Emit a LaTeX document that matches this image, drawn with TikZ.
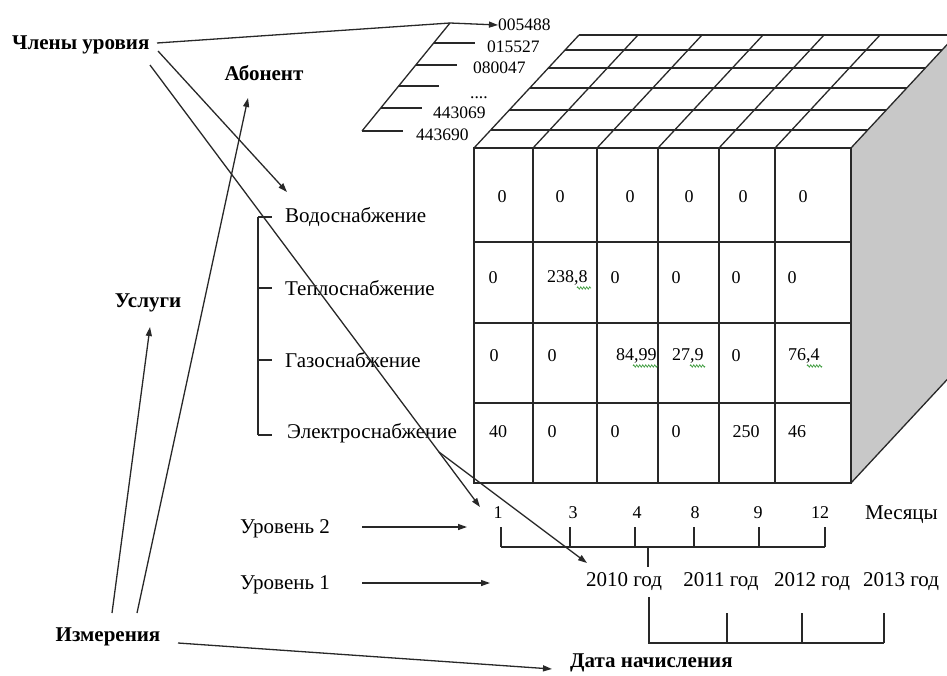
\documentclass[tikz,border=0pt]{standalone}
\usepackage{fontspec}
\setmainfont{Liberation Serif}
\usetikzlibrary{arrows.meta,decorations.pathmorphing}
\definecolor{facegray}{RGB}{200,200,200}
\definecolor{spellgreen}{RGB}{70,160,70}
\definecolor{ink}{RGB}{40,40,40}
\begin{document}
\begin{tikzpicture}[x=1pt,y=-1pt,
  lbl/.style={inner sep=0pt, font=\fontsize{21}{24}\selectfont},
  blbl/.style={inner sep=0pt, font=\fontsize{21}{24}\selectfont\bfseries},
  num/.style={inner sep=0pt, font=\fontsize{18}{21}\selectfont},
  lst/.style={inner sep=0pt, anchor=west, font=\fontsize{17.5}{20}\selectfont},
  ln/.style={line width=1.3pt, draw=ink},
  arr/.style={ln, -{Triangle[length=9pt,width=6pt]}},
  squig/.style={draw=spellgreen, line width=0.8pt, decorate,
    decoration={zigzag, amplitude=1.1pt, segment length=3pt}}]
\useasboundingbox (0,0) rectangle (947,675);

% ---------- cube: right face and top face ----------
\begin{scope}
\clip (0,0) rectangle (947,675);
\fill[facegray] (851,148) -- (956,35) -- (956,370) -- (851,483) -- cycle;
\draw[ln] (851,148) -- (956,35);
\draw[ln] (851,483) -- (956,370);
\foreach \y in {35,50,68,88,110,130}
  \draw[ln] ({474+0.929*(148-\y)},\y) -- ({851+0.929*(148-\y)},\y);
\foreach \x in {474,533,597,658,719,775}
  \draw[ln] (\x,148) -- (\x+105,35);
\end{scope}

% ---------- cube: front face ----------
\draw[ln] (474,148) rectangle (851,483);
\foreach \x in {533,597,658,719,775} \draw[ln] (\x,148) -- (\x,483);
\foreach \y in {242,323,403} \draw[ln] (474,\y) -- (851,\y);

% cell values
\node[num] (c11) at (502,197) {0};
\node[num] (c12) at (560,197) {0};
\node[num] (c13) at (630,197) {0};
\node[num] (c14) at (689,197) {0};
\node[num] (c15) at (743,197) {0};
\node[num] (c16) at (803,197) {0};
\node[num] (c21) at (493,278) {0};
\node[num,anchor=west] (c22) at (547,278) {238,8};
\node[num] (c23) at (615,278) {0};
\node[num] (c24) at (676,278) {0};
\node[num] (c25) at (736,278) {0};
\node[num] (c26) at (792,278) {0};
\node[num] (c31) at (494,356) {0};
\node[num] (c32) at (552,356) {0};
\node[num,anchor=west] (c33) at (616,356) {84,99};
\node[num,anchor=west] (c34) at (672,356) {27,9};
\node[num] (c35) at (736,356) {0};
\node[num,anchor=west] (c36) at (788,356) {76,4};
\node[num] (c41) at (498,432) {40};
\node[num] (c42) at (552,432) {0};
\node[num] (c43) at (615,432) {0};
\node[num] (c44) at (676,432) {0};
\node[num] (c45) at (746,432) {250};
\node[num] (c46) at (797,432) {46};
% spell-check squiggles
\draw[squig] (577,288) -- (591,288);
\draw[squig] (633,366) -- (658,366);
\draw[squig] (690,366) -- (705,366);
\draw[squig] (807,366) -- (822,366);

% ---------- member list (subscribers) ----------
\node[lst] (n1) at (498,25) {005488};
\node[lst] (n2) at (487,47) {015527};
\node[lst] (n3) at (473,68) {080047};
\node[lst,anchor=base west] (n4) at (470,98) {....};
\node[lst] (n5) at (433,113) {443069};
\node[lst] (n6) at (416,135) {443690};
\coordinate (stairtop) at (450,23);
\coordinate (stairbot) at (362,131);
\draw[ln] (stairbot) -- (stairtop);
\draw[ln] (434,43) -- (475,43);
\draw[ln] (416,65) -- (457,65);
\draw[ln] (399,86) -- (439,86);
\draw[ln] (381,108) -- (422,108);
\draw[ln] (stairbot) -- (403,131);

% ---------- services ----------
\node[lbl,anchor=west] (s1) at (285,217) {Водоснабжение};
\node[lbl,anchor=west] (s2) at (285,288) {Теплоснабжение};
\node[lbl,anchor=west] (s3) at (285,360) {Газоснабжение};
\node[lbl,anchor=west] (s4) at (287,433) {Электроснабжение};
\draw[ln] (258,217) -- (258,435);
\foreach \y in {217,288,360,435} \draw[ln] (258,\y) -- (272,\y);

% ---------- months ----------
\node[num] (m1) at (498,513) {1};
\node[num] (m2) at (573,513) {3};
\node[num] (m3) at (637,513) {4};
\node[num] (m4) at (695,513) {8};
\node[num] (m5) at (758,513) {9};
\node[num] (m6) at (820,513) {12};
\node[lbl,anchor=west] (mes) at (865,515) {Месяцы};
\foreach \x in {501,570,635,694,759,825} \draw[ln] (\x,527) -- (\x,547);
\draw[ln] (501,547) -- (825,547);
\draw[ln] (648,547) -- (648,567);

% ---------- years ----------
\node[lbl] (y0) at (624,582) {2010 год};
\node[lbl] (y1) at (721,582) {2011 год};
\node[lbl] (y2) at (812,582) {2012 год};
\node[lbl] (y3) at (901,582) {2013 год};
\draw[ln] (649,597) -- (649,643) -- (884,643);
\foreach \x in {727,802,884} \draw[ln] (\x,613) -- (\x,643);

% ---------- levels ----------
\node[lbl,anchor=west] (lv2) at (240,529) {Уровень 2};
\node[lbl,anchor=west] (lv1) at (240,585) {Уровень 1};
\coordinate (lv2s) at (362,527);
\coordinate (lv2t) at (467,527);
\coordinate (lv1s) at (362,583);
\coordinate (lv1t) at (490,583);
\draw[arr] (lv2s) -- (lv2t);
\draw[arr] (lv1s) -- (lv1t);

% ---------- bold labels ----------
\node[blbl,anchor=west] (cu) at (12,45) {Члены уровия};
\node[blbl] (ab) at (264,73) {Абонент};
\node[blbl] (us) at (148,303) {Услуги};
\node[blbl] (iz) at (108,637) {Измерения};
\node[blbl,anchor=west] (dn) at (570,663) {Дата начисления};

% ---------- connectors ----------
\coordinate (cuR) at (157,43);
\coordinate (cuA) at (158,51);
\coordinate (cuB) at (150,65);
\coordinate (s1tip) at (287,192);
\coordinate (m1tip) at (480,507);
\coordinate (fork) at (439,452);
\coordinate (y0tip) at (587,563);
\draw[arr] (cuR) -- (stairtop) -- (n1.west);
\draw[arr] (cuA) -- (s1tip);
\draw[arr] (cuB) -- (m1tip);
\draw[arr] (fork) -- (y0tip);

\coordinate (izU) at (112,613);
\coordinate (izA) at (137,613);
\coordinate (izD) at (178,643);
\coordinate (ustip) at (150,327);
\coordinate (abtip) at (248,98);
\coordinate (dntip) at (552,669);
\draw[arr] (izU) -- (ustip);
\draw[arr] (izA) -- (abtip);
\draw[arr] (izD) -- (dntip);
\end{tikzpicture}
\end{document}
